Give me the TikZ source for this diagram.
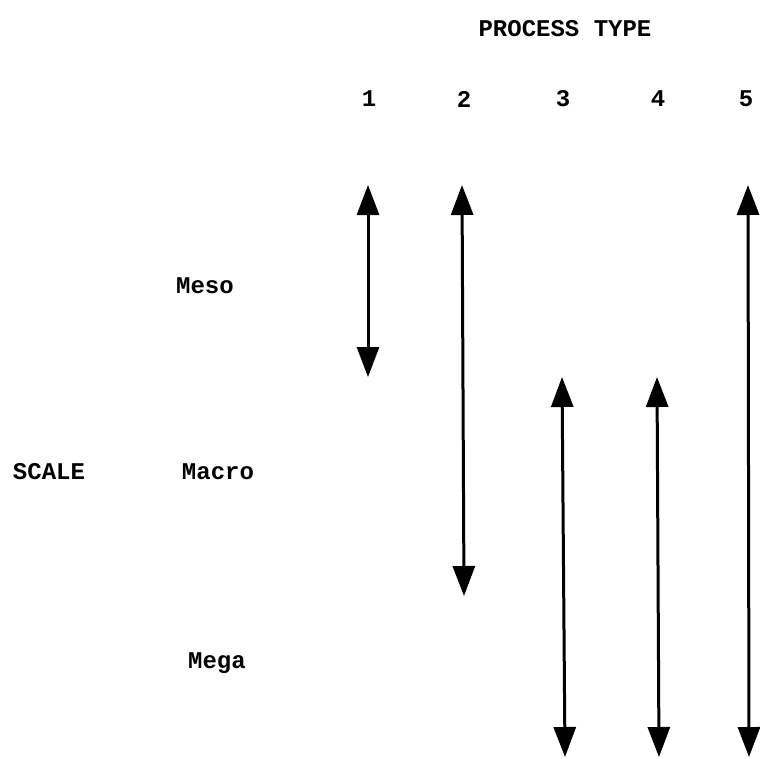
\documentclass[tikz,border=0pt]{standalone}
\usepackage{fontspec}
\setmonofont{Liberation Mono}
\usetikzlibrary{arrows.meta}
\begin{document}
\begin{tikzpicture}[x=1pt,y=-1pt,
  lbl/.style={font=\ttfamily\bfseries\fontsize{24}{28}\selectfont, inner sep=0pt},
  span/.style={line width=3pt,
    {Triangle[width=22pt,length=30pt]}-{Triangle[width=22pt,length=30pt]}}]
  \useasboundingbox (0,0) rectangle (760,758);
  % heading and column numbers
  \node[lbl] (title) at (565,29) {PROCESS TYPE};
  \node[lbl] (n1) at (369,99) {1};
  \node[lbl] (n2) at (464,99) {2};
  \node[lbl] (n3) at (563,99) {3};
  \node[lbl] (n4) at (658,99) {4};
  \node[lbl] (n5) at (746,99) {5};
  % scale labels
  \node[lbl] (scale) at (49,472) {SCALE};
  \node[lbl] (meso) at (205,286) {Meso};
  \node[lbl] (macro) at (218,472) {Macro};
  \node[lbl] (mega) at (217,663) {Mega};
  % range ends of each process
  \coordinate (p1t) at (368,185); \coordinate (p1b) at (368,377);
  \coordinate (p2t) at (462,185); \coordinate (p2b) at (464,596);
  \coordinate (p3t) at (562,377); \coordinate (p3b) at (565,757);
  \coordinate (p4t) at (657,377); \coordinate (p4b) at (659,757);
  \coordinate (p5t) at (748,185); \coordinate (p5b) at (749,757);
  \draw[span] (p1t) -- (p1b);
  \draw[span] (p2t) -- (p2b);
  \draw[span] (p3t) -- (p3b);
  \draw[span] (p4t) -- (p4b);
  \draw[span] (p5t) -- (p5b);
\end{tikzpicture}
\end{document}
